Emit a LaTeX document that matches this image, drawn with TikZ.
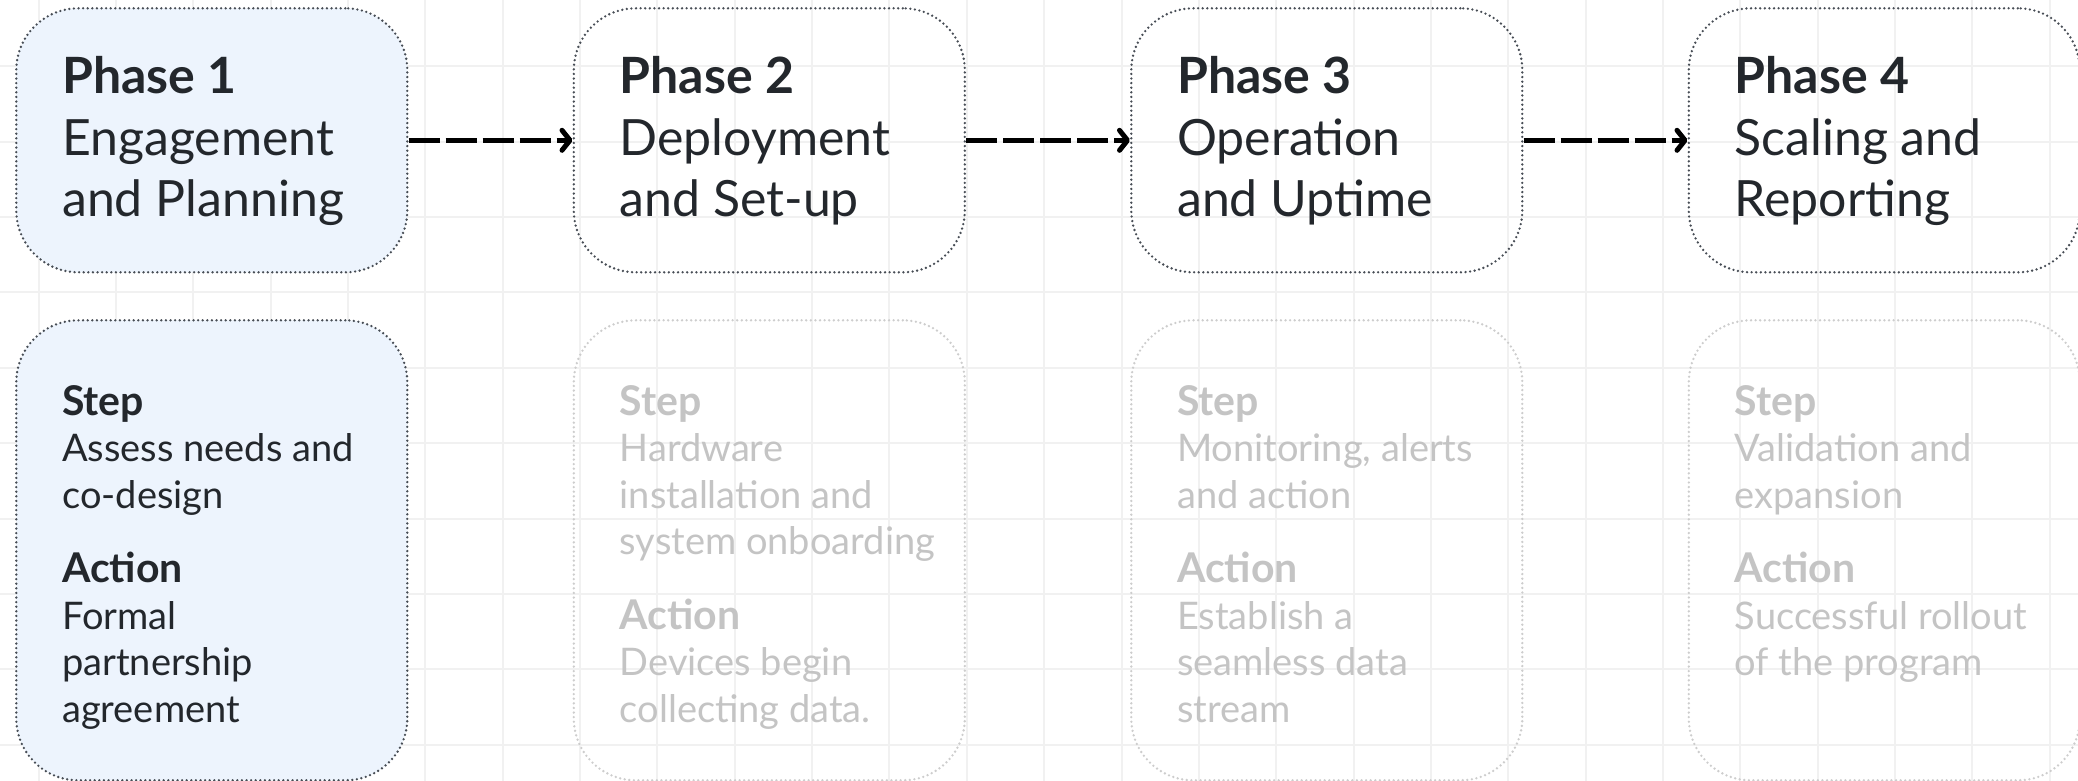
\documentclass[tikz,border=0pt]{standalone}
\usepackage{fontspec}
\setmainfont{Lato}
\usetikzlibrary{arrows.meta}

\definecolor{inkdark}{HTML}{23272C}
\definecolor{inkfade}{HTML}{C4C4C4}
\definecolor{edgedark}{HTML}{474D55}
\definecolor{edgefade}{HTML}{CDCDCD}
\definecolor{fillblue}{HTML}{EDF4FD}
\definecolor{gridgray}{HTML}{F1F1F1}

\tikzset{
  gridline/.style={draw=gridgray, line width=2bp},
  dotedge/.style={line width=2.6bp, dash pattern=on 0bp off 4.6bp, line cap=round},
  phasebox/.style={dotedge, draw=edgedark, rounded corners=62bp, inner sep=0pt,
    minimum width=391bp, minimum height=264bp, anchor=north west},
  stepbox/.style={dotedge, draw=edgefade, rounded corners=62bp, inner sep=0pt,
    minimum width=391bp, minimum height=460bp, anchor=north west},
  activebox/.style={draw=edgedark, fill=fillblue},
  titletext/.style={anchor=base west, inner sep=0pt, align=left, text=inkdark,
    font=\fontsize{50bp}{61bp}\selectfont},
  steptext/.style={anchor=base west, inner sep=0pt, align=left, text=inkfade,
    font=\fontsize{38bp}{46.5bp}\selectfont},
  flowarrow/.style={draw=black, line width=5bp, dash pattern=on 31bp off 6bp,
    -{Straight Barb[length=8bp, width=20bp, line width=5bp, round]}}
}
\newcommand{\hd}[1]{{\fontsize{41bp}{46.5bp}\selectfont\bfseries #1}}

\begin{document}
\begin{tikzpicture}[x=1bp, y=-1bp]

\def\W{2078}
\def\H{781}
\def\xa{15}     % left edge of box 1
\def\dx{557.5}  % box pitch
\def\tx{47}     % text indent

\useasboundingbox (0,0) rectangle (\W,\H);
\fill[white] (0,0) rectangle (\W,\H);

% faint grid
\foreach \gx in {0,...,26}
  \draw[gridline] ({38.6+77.35*\gx},0) -- ++(0,\H);
\foreach \gy in {0,...,9}
  \draw[gridline] (0,{66.2+75.4*\gy}) -- ++(\W,0);

% phase boxes
\node[phasebox, activebox] (p1) at (\xa,7) {};
\node[phasebox] (p2) at (\xa+\dx,7) {};
\node[phasebox] (p3) at (\xa+2*\dx,7) {};
\node[phasebox] (p4) at (\xa+3*\dx,7) {};

% step boxes
\node[stepbox, activebox] (s1) at (\xa,319) {};
\node[stepbox] (s2) at (\xa+\dx,319) {};
\node[stepbox] (s3) at (\xa+2*\dx,319) {};
\node[stepbox] (s4) at (\xa+3*\dx,319) {};

\draw[flowarrow] (p1.east) -- (p2.west);
\draw[flowarrow] (p2.east) -- (p3.west);
\draw[flowarrow] (p3.east) -- (p4.west);

% titles (placed by the baseline of their last line)
\node[titletext] (t1) at (\xa+\tx,216) {\textbf{Phase 1}\\Engagement\\and Planning};
\node[titletext] (t2) at (\xa+\dx+\tx,216) {\textbf{Phase 2}\\Deployment\\and Set-up};
\node[titletext] (t3) at (\xa+2*\dx+\tx,216) {\textbf{Phase 3}\\Operation\\and Uptime};
\node[titletext] (t4) at (\xa+3*\dx+\tx,216) {\textbf{Phase 4}\\Scaling and\\Reporting};

% steps and actions
\node[steptext, text=inkdark] (d1) at (\xa+\tx,722)
  {\hd{Step}\\Assess needs and\\co-design\\[28bp]\hd{Action}\\Formal\\partnership\\agreement};
\node[steptext] (d2) at (\xa+\dx+\tx,722)
  {\hd{Step}\\Hardware\\installation and\\system onboarding\\[28bp]\hd{Action}\\Devices begin\\collecting data.};
\node[steptext] (d3) at (\xa+2*\dx+\tx,722)
  {\hd{Step}\\Monitoring, alerts\\and action\\[28bp]\hd{Action}\\Establish a\\seamless data\\stream};
\node[steptext] (d4) at (\xa+3*\dx+\tx,675.5)
  {\hd{Step}\\Validation and\\expansion\\[28bp]\hd{Action}\\Successful rollout\\of the program};

\end{tikzpicture}
\end{document}
